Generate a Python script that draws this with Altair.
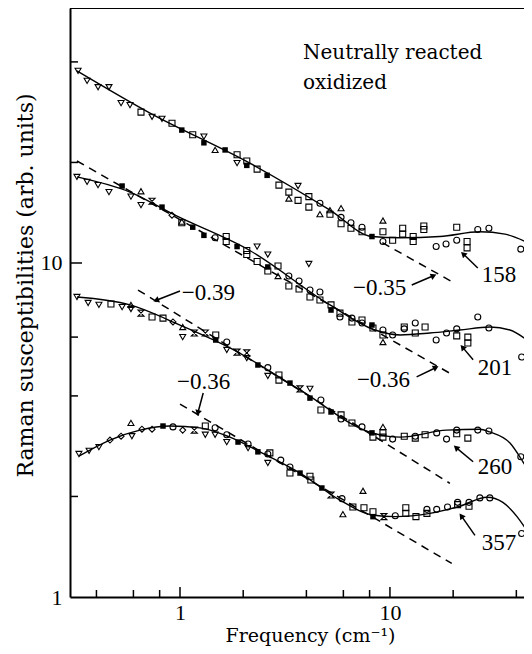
import altair as alt
import pandas as pd

# ---------------- data ----------------
# series "158" (top)
s158_f = [0.327,0.361,0.407,0.459,0.524,0.578,0.652,0.736,0.821,0.916,1.02,1.15,1.30,1.30,1.47,1.64,1.87,1.87,2.08,2.08,2.33,2.60,2.96,3.65,3.30,3.30,3.65,4.11,4.11,4.64,4.64,5.18,5.18,5.85,5.85,5.85,6.52,6.52,7.36,7.36,8.21,9.26,9.26,9.26,10.3,11.5,11.5,12.9,12.9,14.5,14.5,16.6,18.5,20.8,20.8,23.3,23.3,26.2,29.6,42.0,46.4]
s158_chi = [37.6,35.1,33.6,33.6,30.1,29.7,28.3,27.4,27.0,26.2,25.0,24.2,23.9,22.9,21.8,21.8,21.1,19.9,20.2,19.6,19.1,18.3,17.1,17.0,16.3,15.6,15.4,15.8,14.7,14.0,15.1,14.0,14.4,14.6,13.7,13.1,13.2,12.7,12.8,12.4,12.0,13.4,12.4,11.6,11.7,12.7,12.2,12.0,11.6,12.9,12.6,11.2,11.4,11.7,12.8,11.6,11.1,12.6,12.7,11.0,12.6]
s158_sym = ["td","td","td","td","td","td","sq","td","td","sq","sqf","sq","td","sqf","tu","sqf","sq","td","sq","sqf","sq","sqf","sq","td","sq","tu","sq","sq","sq","tu","ci","sq","tu","tu","ci","sq","ci","sq","ci","sq","sqf","tu","sq","ci","sq","sq","sq","sq","sq","sq","sq","ci","ci","ci","sq","sq","sq","ci","ci","ci","ci"]

# series "201"
s201_f = [0.323,0.361,0.407,0.459,0.530,0.584,0.652,0.652,0.736,0.821,0.916,1.02,1.02,1.15,1.30,1.47,1.66,1.66,1.87,2.08,2.33,2.08,2.62,2.33,2.62,2.93,4.11,2.93,2.62,3.30,3.69,3.30,3.69,4.16,4.16,4.64,4.64,5.24,5.24,5.78,5.78,6.59,6.59,7.36,7.36,8.21,8.30,9.26,9.26,9.26,10.3,11.7,11.7,13.2,13.2,14.7,16.6,18.6,20.8,20.8,23.5,23.5,26.2,29.6,42.4,46.4]
s201_chi = [18.1,17.5,17.1,16.3,17.0,15.8,16.4,14.9,15.3,14.7,13.9,13.3,13.2,12.8,12.1,11.9,12.0,11.6,11.2,10.9,11.2,10.6,10.6,10.1,9.73,9.79,9.93,9.14,9.46,9.14,8.83,8.53,8.36,8.30,7.91,8.19,7.75,7.49,7.23,6.89,7.08,6.84,6.66,6.75,6.61,6.52,6.39,6.30,5.80,6.09,6.09,6.43,6.35,6.61,6.17,6.43,5.88,6.17,6.35,6.05,6.00,5.76,6.89,6.39,5.23,6.21]
s201_sym = ["td","td","td","td","sqf","td","tu","td","hg","sqf","dm","tu","sq","sqf","sqf","ci","sq","sq","sqf","sq","td","sq","td","sq","sqf","sq","td","tu","sq","ci","ci","sq","sq","ci","sq","ci","sq","sq","sqf","ci","sq","ci","sq","sq","ci","sqf","sq","ci","tu","sq","ci","sq","ci","ci","sq","sq","ci","ci","ci","sq","sq","sq","ci","ci","ci","ci"]

# series "260"
s260_f = [0.323,0.365,0.411,0.469,0.530,0.584,0.584,0.652,0.736,0.830,0.926,1.03,1.03,1.17,1.32,1.48,1.48,1.67,1.67,1.87,2.08,2.08,2.35,2.62,2.62,2.96,2.96,3.34,3.73,4.16,4.16,4.69,4.69,5.24,5.85,5.85,6.59,7.36,8.21,8.30,9.26,9.26,9.26,10.3,11.7,13.2,13.2,14.7,16.7,18.6,20.8,20.8,23.5,26.2,29.6,42.0,46.9]
s260_chi = [7.91,7.59,7.49,7.54,7.38,7.49,7.28,7.08,6.89,6.84,6.66,6.43,6.00,6.17,6.17,6.09,5.88,5.80,5.49,5.41,5.38,5.19,4.95,4.86,4.59,4.62,4.46,4.37,4.20,4.20,3.94,3.89,3.63,3.58,3.51,3.41,3.32,3.23,3.10,3.01,3.23,3.10,3.01,2.97,3.03,3.03,2.99,3.06,3.10,2.97,3.16,3.08,2.99,3.16,3.14,2.63,2.29]
s260_sym = ["td","td","td","sq","td","tu","td","hg","sq","sq","dm","tu","td","hg","hg","sq","sqf","ci","td","hg","hg","td","sqf","ci","td","sq","sq","sqf","hg","td","sqf","ci","sq","sqf","sq","ci","sq","ci","sqf","sq","tu","sq","sq","ci","sq","ci","sq","sq","ci","ci","ci","sq","sq","ci","ci","ci","ci"]

# series "357" (bottom)
s357_f = [0.330,0.369,0.411,0.464,0.524,0.584,0.590,0.659,0.736,0.830,0.926,1.03,1.17,1.32,1.32,1.47,1.47,1.67,1.67,1.89,2.11,2.11,2.35,2.62,2.62,2.68,3.02,3.34,3.34,3.73,4.16,4.20,4.74,5.24,5.91,5.97,6.66,7.44,7.52,8.30,8.30,9.36,10.6,11.9,11.9,13.3,15.0,15.0,16.7,18.8,21.0,21.0,23.8,23.8,26.8,29.9,42.4,46.9]
s357_chi = [2.68,2.74,2.81,2.95,3.03,3.32,3.03,3.18,3.18,3.25,3.23,3.16,3.16,3.25,3.06,3.21,3.06,3.06,2.91,2.91,2.87,2.79,2.72,2.68,2.52,2.70,2.57,2.45,2.35,2.35,2.30,2.24,2.12,2.02,1.97,1.77,1.86,2.08,1.85,1.80,1.74,1.74,1.75,1.85,1.78,1.74,1.83,1.78,1.83,1.86,1.89,1.92,1.87,1.92,1.98,1.98,1.55,1.61]
s357_sym = ["td","td","td","dm","dm","tu","td","dm","dm","sqf","ci","dm","hg","sq","td","ci","td","ci","td","sqf","ci","td","sqf","ci","td","sq","ci","ci","sq","sqf","sq","sq","sqf","hg","ci","tu","sq","tu","sq","sq","sqf","hg","ci","sq","sq","sq","ci","sq","ci","ci","sq","ci","sq","ci","ci","ci","ci","ci"]

# solid fitted curves
c158_f = [0.323,0.720,2.15,5.18,8.21,11.2,17.3,26.8,35.3,45.4]
c158_chi = [37.6,28.1,19.9,14.4,12.0,11.9,12.0,12.4,12.2,11.5]
c201_f = [0.323,0.578,0.947,2.15,5.18,8.48,11.2,15.5,21.5,29.9,37.3,44.9]
c201_chi = [18.1,16.3,13.9,10.9,7.49,6.30,6.09,6.17,6.30,6.43,6.30,5.88]
c260_f = [0.323,0.578,1.0,1.73,3.73,8.21,11.2,18.6,26.8,29.9,37.3,43.0,47.5]
c260_chi = [7.91,7.49,6.52,5.57,4.17,3.10,3.01,3.16,3.18,3.12,2.89,2.54,2.29]
c357_f = [0.330,0.464,0.645,0.896,1.245,1.73,2.40,3.73,5.78,8.21,10.6,15.5,21.5,29.0,34.5,40.3,46.4]
c357_chi = [2.64,2.95,3.16,3.25,3.21,3.01,2.72,2.35,1.95,1.76,1.74,1.78,1.87,1.99,1.92,1.74,1.53]

# dashed power-law guides (end points)
d_series = ["158", "158", "201", "201", "260", "260", "357", "357"]
d_f = [9.2, 19.5, 0.323, 19.95, 0.631, 19.3, 1.0, 19.7]
d_chi = [11.5, 8.83, 20.2, 4.62, 8.30, 2.19, 3.78, 1.26]

# annotation labels
lab_text = ["\u22120.35", "\u22120.36", "\u22120.39", "\u22120.36", "158", "201", "260", "357"]
lab_f = [6.67, 6.96, 1.02, 0.967, 27.4, 26.2, 26.2, 27.4]
lab_chi = [8.42, 4.46, 8.13, 4.40, 9.21, 4.85, 2.45, 1.45]

# arrows: tail -> head
arr_f1 = [12.7, 13.4, 1.0, 1.29, 26.2, 24.9, 24.9, 25.4]
arr_c1 = [8.59, 4.56, 8.24, 4.08, 9.66, 5.13, 2.54, 1.53]
arr_f2 = [16.0, 16.4, 0.777, 1.22, 22.5, 22.3, 20.8, 22.0]
arr_c2 = [9.14, 4.85, 7.75, 3.58, 10.6, 5.57, 2.79, 1.74]
arr_ang = [67, 63, 249, 195, 313, 320, 311, 324]

title_text = ["Neutrally reacted", "oxidized"]
title_f = [3.85, 3.85]
title_chi = [42.5, 34.6]

x_ticks_minor = [0.4, 0.6, 0.8, 2, 4, 6, 8, 20, 40]
x_ticks_major = [1, 10]
y_ticks_minor = [2, 4, 6, 20, 40]
y_ticks_major = [10]

# ---------------- build tables ----------------
def pts_df(name, f, c, s):
    return pd.DataFrame({"series": name, "f": f, "chi": c, "sym": s})

pts = pd.concat([
    pts_df("158", s158_f, s158_chi, s158_sym),
    pts_df("201", s201_f, s201_chi, s201_sym),
    pts_df("260", s260_f, s260_chi, s260_sym),
    pts_df("357", s357_f, s357_chi, s357_sym),
], ignore_index=True)

curves = pd.concat([
    pd.DataFrame({"series": "158", "f": c158_f, "chi": c158_chi}),
    pd.DataFrame({"series": "201", "f": c201_f, "chi": c201_chi}),
    pd.DataFrame({"series": "260", "f": c260_f, "chi": c260_chi}),
    pd.DataFrame({"series": "357", "f": c357_f, "chi": c357_chi}),
], ignore_index=True)

dashed = pd.DataFrame({"series": d_series, "f": d_f, "chi": d_chi})
labels = pd.DataFrame({"t": lab_text, "f": lab_f, "chi": lab_chi})
arrows = pd.DataFrame({"f1": arr_f1, "c1": arr_c1, "f2": arr_f2, "c2": arr_c2, "ang": arr_ang})
titles = pd.DataFrame({"t": title_text, "f": title_f, "chi": title_chi})

# plot area: x 70..524 px, y 8..597 px on the page (whole chart stays inside 516x638)
W, H = 454, 589
xs = alt.Scale(type="log", domain=[0.2993, 43.5], nice=False)
ys = alt.Scale(type="log", domain=[1, 58.0], nice=False)

SERIF_NUM = "Liberation Serif"
SERIF_TXT = "DejaVu Serif"

x_axis = alt.Axis(values=[1, 10], format="d", ticks=False, grid=False,
                  domainColor="black", domainWidth=2,
                  labelFont=SERIF_NUM, labelFontSize=22, labelColor="black", labelPadding=5,
                  title="Frequency (cm\u207b\u00b9)", titleFont=SERIF_TXT, titleFontSize=19,
                  titleFontWeight="normal", titleColor="black",
                  titleX=240, titleY=44, titleAlign="center", titleBaseline="alphabetic")
y_axis = alt.Axis(values=[1, 10], format="d", ticks=False, grid=False,
                  domainColor="black", domainWidth=2,
                  labelFont=SERIF_NUM, labelFontSize=22, labelColor="black", labelPadding=8,
                  title="Raman susceptibilities (arb. units)", titleFont=SERIF_TXT, titleFontSize=22,
                  titleFontWeight="normal", titleColor="black",
                  titleX=-45, titleY=277, titleAngle=270, titleAlign="center", titleBaseline="middle")

shape_dom = ["td", "tu", "sq", "ci", "dm", "hg"]
shape_rng = ["triangle-down", "triangle-up", "square", "circle", "diamond",
             "M-1,-1L1,-1L-1,1L1,1Z"]

X = lambda f: alt.X(f, scale=xs)
Y = lambda f: alt.Y(f, scale=ys)

open_pts = alt.Chart(pts).transform_filter(alt.datum.sym != "sqf").mark_point(
    filled=False, color="black", size=36, strokeWidth=1.1, opacity=1, clip=True
).encode(
    x=alt.X("f:Q", scale=xs, axis=x_axis),
    y=alt.Y("chi:Q", scale=ys, axis=y_axis),
    shape=alt.Shape("sym:N", scale=alt.Scale(domain=shape_dom, range=shape_rng), legend=None),
)

filled_pts = alt.Chart(pts).transform_filter(alt.datum.sym == "sqf").mark_point(
    filled=True, shape="square", color="black", size=30, opacity=1, clip=True
).encode(x=X("f:Q"), y=Y("chi:Q"))

curve_layer = alt.Chart(curves).mark_line(color="black", strokeWidth=1.4, interpolate="monotone",
                                          clip=True).encode(
    x=X("f:Q"), y=Y("chi:Q"), detail="series:N")

dash_layer = alt.Chart(dashed).mark_line(color="black", strokeWidth=1.5, strokeDash=[8, 6]).encode(
    x=X("f:Q"), y=Y("chi:Q"), detail="series:N")

arrow_lines = alt.Chart(arrows).mark_rule(color="black", strokeWidth=1.5).encode(
    x=X("f1:Q"), x2="f2:Q", y=Y("c1:Q"), y2="c2:Q")
arrow_heads = alt.Chart(arrows).mark_point(shape="triangle", filled=True, color="black",
                                            size=45, opacity=1).encode(
    x=X("f2:Q"), y=Y("c2:Q"), angle=alt.Angle("ang:Q", scale=None))

label_layer = alt.Chart(labels).mark_text(align="left", baseline="middle", font=SERIF_NUM,
                                          fontSize=23, color="black").encode(
    x=X("f:Q"), y=Y("chi:Q"), text="t:N")

title_layer = alt.Chart(titles).mark_text(align="left", baseline="middle", font=SERIF_TXT,
                                          fontSize=20, color="black").encode(
    x=X("f:Q"), y=Y("chi:Q"), text="t:N")

xt_minor = alt.Chart(pd.DataFrame({"f": x_ticks_minor})).mark_rule(color="black", strokeWidth=1.5).encode(
    x=X("f:Q"), y=alt.value(H), y2=alt.value(H - 7))
xt_major = alt.Chart(pd.DataFrame({"f": x_ticks_major})).mark_rule(color="black", strokeWidth=1.5).encode(
    x=X("f:Q"), y=alt.value(H), y2=alt.value(H - 10))
yt_minor = alt.Chart(pd.DataFrame({"chi": y_ticks_minor})).mark_rule(color="black", strokeWidth=1.5).encode(
    y=Y("chi:Q"), x=alt.value(0), x2=alt.value(8))
yt_major = alt.Chart(pd.DataFrame({"chi": y_ticks_major})).mark_rule(color="black", strokeWidth=1.5).encode(
    y=Y("chi:Q"), x=alt.value(0), x2=alt.value(12))

top_border = alt.Chart(pd.DataFrame({"a": [0]})).mark_rule(color="black", strokeWidth=2).encode(
    x=alt.value(0), x2=alt.value(W), y=alt.value(0))

chart = alt.layer(
    open_pts, filled_pts, curve_layer, dash_layer, arrow_lines, arrow_heads,
    label_layer, title_layer, xt_minor, xt_major, yt_minor, yt_major, top_border,
).properties(
    width=W, height=H,
    autosize=alt.AutoSizeParams(type="none"),
    padding={"left": 62, "top": 0, "right": 0, "bottom": 49},
    background="white",
).configure_view(stroke=None)

chart.save("out.html", embed_options={"renderer": "svg", "actions": False})
